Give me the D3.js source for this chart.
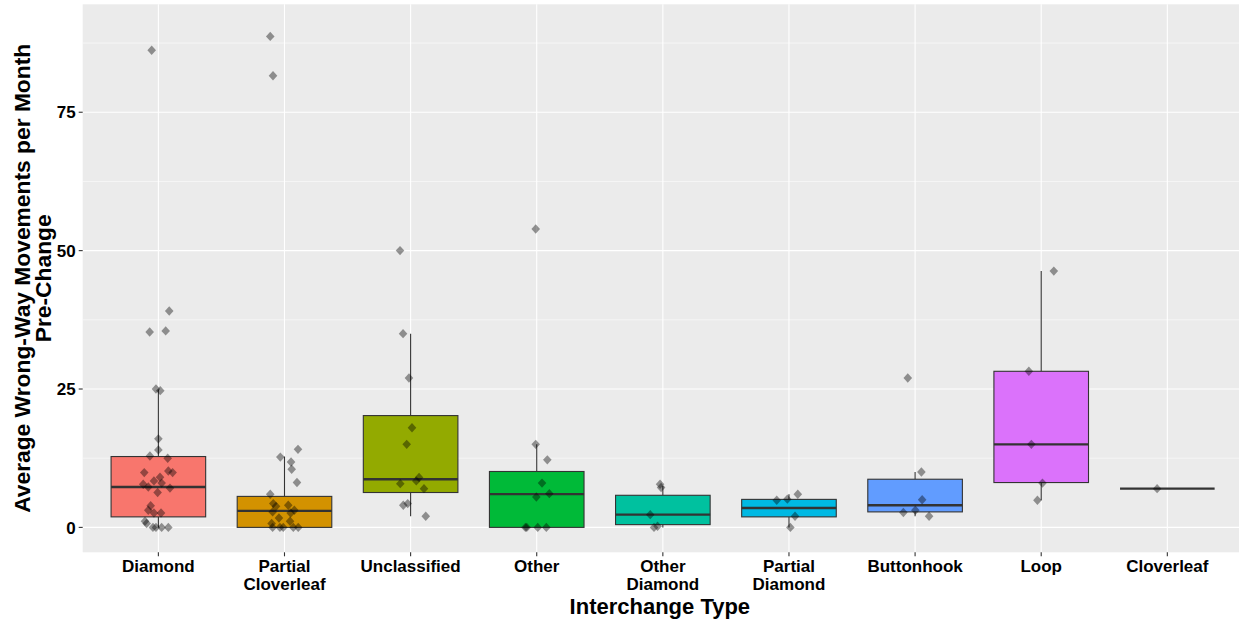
<!DOCTYPE html>
<html>
<head>
<meta charset="utf-8">
<script src="https://cdn.jsdelivr.net/npm/d3@7"></script>
<style>
  html, body { margin: 0; padding: 0; background: #ffffff; }
  svg { display: block; }
  text { font-family: "Liberation Sans", Arial, sans-serif; font-weight: bold; fill: #000; }
</style>
</head>
<body>
<svg id="chart" width="1239" height="619"></svg>
<script>
// ---------- data ----------
const categories = ["Diamond", "Partial Cloverleaf", "Unclassified", "Other", "Other Diamond",
                    "Partial Diamond", "Buttonhook", "Loop", "Cloverleaf"];
const categoryLabels = [["Diamond"], ["Partial", "Cloverleaf"], ["Unclassified"], ["Other"],
                        ["Other", "Diamond"], ["Partial", "Diamond"], ["Buttonhook"], ["Loop"], ["Cloverleaf"]];
const fillColors = ["#F8766D", "#D39200", "#93AA00", "#00BA38", "#00C19F", "#00B9E3", "#619CFF", "#DB72FB", "#FF61C3"];

// box statistics
const boxQ1        = [1.9, 0.0, 6.3, 0.0, 0.5, 1.9, 2.8, 8.1, 7.0];
const boxMedian    = [7.3, 3.0, 8.7, 6.0, 2.3, 3.5, 4.0, 15.0, 7.0];
const boxQ3        = [12.8, 5.6, 20.2, 10.1, 5.8, 5.06, 8.7, 28.2, 7.0];
const whiskerLow   = [0.0, 0.0, 2.0, 0.0, 0.0, 0.0, 2.0, 4.9, 7.0];
const whiskerHigh  = [24.9, 12.8, 35.0, 15.0, 7.5, 6.0, 10.0, 46.3, 7.0];

// jittered observations: [value, jitter offset in category units]
const ptsDiamond = [[86.2,-0.053],[39.1,0.086],[35.3,-0.069],[35.5,0.058],[25.0,-0.019],[24.7,0.015],
  [16.0,0],[14.0,0],[12.9,-0.067],[12.5,0.074],[9.9,-0.112],[10.2,0.079],[9.9,0.113],[9.05,0.013],
  [8.4,-0.035],[7.8,-0.12],[7.3,-0.08],[8.0,0.026],[7.1,0.092],[6.3,-0.006],[3.9,-0.061],[3.1,-0.08],
  [2.6,-0.035],[2.6,0.021],[1.1,-0.106],[0.7,-0.093],[0,-0.019],[0,0.026],[0,0.079],[0,-0.043]];
const ptsPartialCloverleaf = [[88.7,-0.113],[81.6,-0.091],[14.1,0.107],[12.7,-0.033],[11.8,0.052],
  [10.5,0.057],[8.1,0.099],[6.0,-0.113],[4.3,-0.089],[3.8,-0.067],[4.0,0.03],[3.1,0.078],[2.8,-0.094],
  [2.6,0.049],[1.7,-0.044],[0.7,-0.102],[1.1,0.044],[0,-0.094],[0,-0.036],[0,-0.01],[0,0.07],[0,0.109]];
const ptsUnclassified = [[50.0,-0.084],[35.0,-0.06],[27.0,-0.013],[18.0,0.011],[15.0,-0.031],[9.0,0.067],
  [8.4,0.045],[7.9,-0.082],[7.0,0.106],[4.0,-0.058],[4.3,-0.023],[2.0,0.12]];
const ptsOther = [[53.9,-0.008],[15.0,-0.008],[12.2,0.084],[8.0,0.042],[6.1,0.1],[5.5,-0.003],
  [0,-0.09],[0,-0.079],[0,0.008],[0,0.076]];
const ptsOtherDiamond = [[7.8,-0.022],[7.2,-0.014],[2.3,-0.1],[0,-0.07],[0.2,-0.042]];
const ptsPartialDiamond = [[4.9,-0.097],[5.1,-0.013],[6.0,0.07],[2.0,0.048],[0,0.011]];
const ptsButtonhook = [[27.0,-0.058],[10.0,0.05],[5.0,0.056],[3.1,0.002],[2.7,-0.093],[2.0,0.111]];
const ptsLoop = [[46.3,0.1],[28.2,-0.098],[15.0,-0.078],[8.0,0.01],[4.9,-0.03]];
const ptsCloverleaf = [[7.0,-0.081]];
const pointSets = [ptsDiamond, ptsPartialCloverleaf, ptsUnclassified, ptsOther, ptsOtherDiamond,
                   ptsPartialDiamond, ptsButtonhook, ptsLoop, ptsCloverleaf];

const yTicks = [0, 25, 50, 75];
const yMinor = [12.5, 37.5, 62.5, 87.5];
const xTitle = "Interchange Type";
const yTitleLines = ["Average Wrong-Way Movements per Month", "Pre-Change"];

// ---------- layout ----------
const panel = { left: 82.7, right: 1243, top: 4.3, bottom: 552.3 };
const svg = d3.select("#chart");

const x = d3.scalePoint().domain(categories).range([panel.left, panel.right]).padding(0.6);
const step = x.step();
const y = d3.scaleLinear().domain([-4.5, 94.5]).range([panel.bottom, panel.top]);

// panel background
svg.append("rect").attr("x", panel.left).attr("y", panel.top)
  .attr("width", panel.right - panel.left).attr("height", panel.bottom - panel.top)
  .attr("fill", "#EBEBEB");

const grid = svg.append("g");
grid.selectAll("line.minor").data(yMinor).join("line")
  .attr("x1", panel.left).attr("x2", panel.right)
  .attr("y1", d => y(d)).attr("y2", d => y(d))
  .attr("stroke", "#fff").attr("stroke-width", 0.55);
grid.selectAll("line.majy").data(yTicks).join("line")
  .attr("x1", panel.left).attr("x2", panel.right)
  .attr("y1", d => y(d)).attr("y2", d => y(d))
  .attr("stroke", "#fff").attr("stroke-width", 1.1);
grid.selectAll("line.majx").data(categories).join("line")
  .attr("x1", d => x(d)).attr("x2", d => x(d))
  .attr("y1", panel.top).attr("y2", panel.bottom)
  .attr("stroke", "#fff").attr("stroke-width", 1.1);

// boxes
const boxW = step * 0.75;
const boxes = svg.append("g");
categories.forEach((c, i) => {
  const cx = x(c);
  const g = boxes.append("g");
  g.append("line").attr("x1", cx).attr("x2", cx)
    .attr("y1", y(boxQ3[i])).attr("y2", y(whiskerHigh[i]))
    .attr("stroke", "#333").attr("stroke-width", 1.1);
  g.append("line").attr("x1", cx).attr("x2", cx)
    .attr("y1", y(boxQ1[i])).attr("y2", y(whiskerLow[i]))
    .attr("stroke", "#333").attr("stroke-width", 1.1);
  g.append("rect").attr("x", cx - boxW / 2).attr("width", boxW)
    .attr("y", y(boxQ3[i])).attr("height", Math.max(0, y(boxQ1[i]) - y(boxQ3[i])))
    .attr("fill", fillColors[i]).attr("stroke", "#333").attr("stroke-width", 1.1);
  g.append("line").attr("x1", cx - boxW / 2).attr("x2", cx + boxW / 2)
    .attr("y1", y(boxMedian[i])).attr("y2", y(boxMedian[i]))
    .attr("stroke", "#333").attr("stroke-width", 2.3);
});

// points
const diamond = "M0,-4.7L4.3,0L0,4.7L-4.3,0Z";
const pts = svg.append("g");
categories.forEach((c, i) => {
  pts.selectAll(null).data(pointSets[i]).join("path")
    .attr("d", diamond)
    .attr("transform", d => `translate(${x(c) + d[1] * step},${y(d[0])})`)
    .attr("fill", "#000").attr("fill-opacity", 0.4);
});

// axes
const yAxis = svg.append("g");
yAxis.selectAll("line").data(yTicks).join("line")
  .attr("x1", panel.left - 4).attr("x2", panel.left)
  .attr("y1", d => y(d)).attr("y2", d => y(d))
  .attr("stroke", "#333").attr("stroke-width", 1.1);
yAxis.selectAll("text").data(yTicks).join("text")
  .attr("x", panel.left - 7).attr("y", d => y(d)).attr("dy", "0.36em")
  .attr("text-anchor", "end").style("font-size", "17px").text(d => d);

const xAxis = svg.append("g");
xAxis.selectAll("line").data(categories).join("line")
  .attr("x1", d => x(d)).attr("x2", d => x(d))
  .attr("y1", panel.bottom).attr("y2", panel.bottom + 4)
  .attr("stroke", "#333").attr("stroke-width", 1.1);
categories.forEach((c, i) => {
  const t = xAxis.append("text").attr("text-anchor", "middle").style("font-size", "17px");
  categoryLabels[i].forEach((line, k) => {
    t.append("tspan").attr("x", x(c)).attr("y", 572 + k * 18).text(line);
  });
});

// titles
svg.append("text").attr("x", (panel.left + 1239) / 2 - 1).attr("y", 613.5)
  .attr("text-anchor", "middle").style("font-size", "22px").text(xTitle);
const yMid = (panel.top + panel.bottom) / 2;
yTitleLines.forEach((line, k) => {
  svg.append("text")
    .attr("transform", `translate(${30 + k * 21},${yMid}) rotate(-90)`)
    .attr("text-anchor", "middle").style("font-size", "22.8px").text(line);
});
</script>
</body>
</html>
